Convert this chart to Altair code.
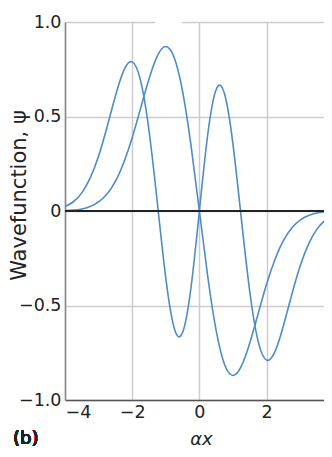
import altair as alt
import pandas as pd

# Values
x_vals = [-4.0, -3.75, -3.5, -3.25, -3.0, -2.75, -2.5, -2.25, -2.0, -1.75, -1.5,
          -1.25, -1.0, -0.75, -0.5, -0.25, 0.0, 0.25, 0.5, 0.75, 1.0, 1.25, 1.5,
          1.75, 2.0, 2.25, 2.5, 2.75, 3.0, 3.25, 3.5, 3.75, 4.0]
psi_low = [0.002, 0.005, 0.011, 0.024, 0.048, 0.090, 0.157, 0.257, 0.388, 0.543,
           0.698, 0.821, 0.870, 0.812, 0.633, 0.348, 0.0, -0.348, -0.633, -0.812,
           -0.870, -0.821, -0.698, -0.543, -0.388, -0.257, -0.157, -0.090, -0.048,
           -0.024, -0.011, -0.005, -0.002]
psi_high = [0.023, 0.049, 0.096, 0.175, 0.291, 0.443, 0.608, 0.744, 0.789, 0.690,
            0.426, 0.042, -0.354, -0.619, -0.643, -0.406, 0.0, 0.406, 0.643, 0.619,
            0.354, -0.042, -0.426, -0.690, -0.789, -0.744, -0.608, -0.443, -0.291,
            -0.175, -0.096, -0.049, -0.023]
x_ticks = [-4, -2, 0, 2, 4]
y_ticks = [-1.0, -0.5, 0.0, 0.5, 1.0]
x_domain = [-4, 3.71]   # the right edge of the plot is cut off in the reference
top_gap = [-1.30, -0.53]
panel_label = "(b)"

FONT = "DejaVu Sans"
TXT = "#222222"

n = len(x_vals)
df = pd.DataFrame({
    "x": x_vals + x_vals,
    "psi": psi_low + psi_high,
    "state": ["low"] * n + ["high"] * n,
})

xscale = alt.Scale(domain=x_domain, nice=False, zero=False)
yscale = alt.Scale(domain=[-1, 1], nice=False, zero=False)

x_axis = alt.Axis(
    values=x_ticks, format="d", grid=True, gridColor="#cccccc", gridWidth=1.5,
    domainColor="#555555", domainWidth=1.5, ticks=False, tickSize=0,
    labelPadding=3, labelFont=FONT, labelFontSize=17.5, labelColor=TXT,
    labelFontWeight="normal",
    labelAlign={"expr": "datum.value == -4 ? 'left' : 'center'"},
    title="αx", titleFont=FONT, titleFontSize=18, titleFontStyle="italic",
    titleFontWeight="normal", titleColor=TXT, titleX=136, titleY=44,
    titleAlign="center", titleBaseline="alphabetic",
)
y_axis = alt.Axis(
    values=y_ticks, labelExpr="datum.value == 0 ? '0' : format(datum.value, '.1f')",
    grid=True, gridColor="#cccccc", gridWidth=1.5,
    domainColor="#888888", domainWidth=1.5, ticks=False, tickSize=0,
    labelPadding=4, labelFont=FONT, labelFontSize=17.5, labelColor=TXT,
    labelFontWeight="normal",
    title="Wavefunction, ψ", titleFont=FONT, titleFontSize=21,
    titleFontWeight="normal", titleColor=TXT, titleAngle=270,
    titleX=-40, titleY=173, titleAlign="center", titleBaseline="alphabetic",
)

lines = alt.Chart(df).mark_line(
    interpolate="natural", color="#4f8bc9", strokeWidth=1.6, clip=True
).encode(
    x=alt.X("x:Q", scale=xscale, axis=x_axis),
    y=alt.Y("psi:Q", scale=yscale, axis=y_axis),
    detail="state:N",
)

zero_rule = alt.Chart(df).mark_rule(color="#222222", strokeWidth=1).encode(
    y=alt.Y(datum=0)
)

gap = alt.Chart(df).mark_rule(color="white", strokeWidth=3).encode(
    x=alt.X(datum=top_gap[0]),
    x2=alt.X2(datum=top_gap[1]),
    y=alt.Y(datum=1),
)

label = alt.Chart(df).mark_text(
    text=panel_label, align="left", baseline="alphabetic", dx=-52, dy=44,
    font=FONT, fontSize=18, fontWeight="normal", color=TXT,
).encode(
    x=alt.X(datum=-4),
    y=alt.Y(datum=-1),
)

chart = alt.layer(lines, zero_rule, gap, label).properties(
    width=259, height=378,
    autosize=alt.AutoSizeParams(type="none"),
    padding={"left": 57, "top": 14, "right": 0, "bottom": 49},
    background="white",
).configure_view(stroke=None)

chart.save("out.html", embed_options={"renderer": "svg", "actions": False})
